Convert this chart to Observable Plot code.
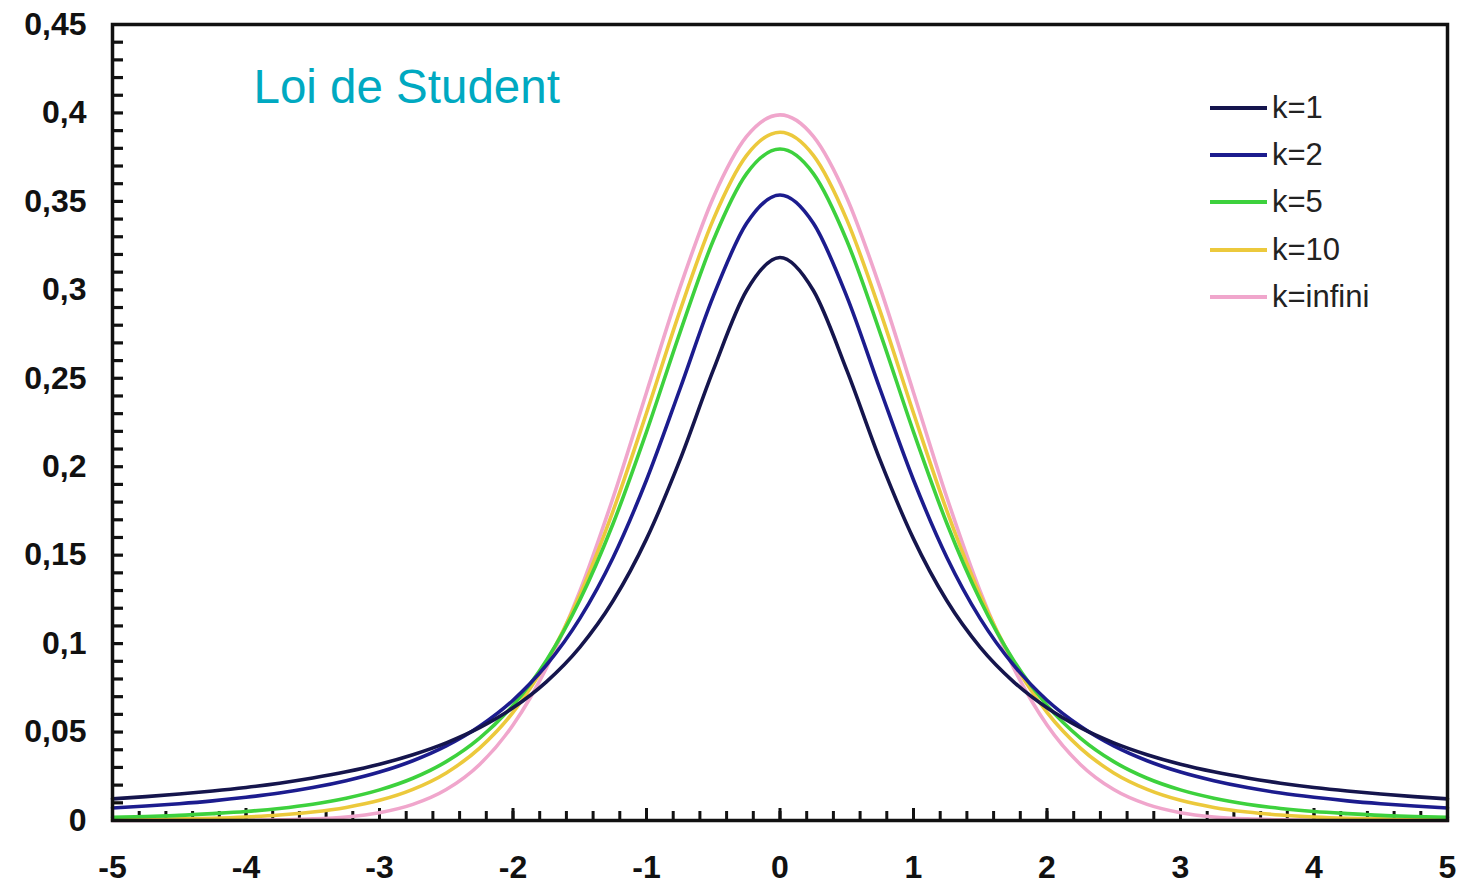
<!DOCTYPE html>
<html><head><meta charset="utf-8">
<script src="https://cdn.jsdelivr.net/npm/d3@7"></script>
<script src="https://cdn.jsdelivr.net/npm/@observablehq/plot@0.6"></script>
<style>
body{margin:0;background:#fff;}
#wrap{position:relative;width:1464px;height:885px;}
#legend{position:absolute;left:1210px;top:84px;font-family:"Liberation Sans",Arial,sans-serif;font-size:31px;color:#222;}
.row{display:flex;align-items:center;height:47.4px;}
.sw{width:57px;height:4px;margin-right:5px;}
</style></head><body><div id="wrap"><div id="legend"></div></div>
<script>
// x positions (step 0.25)
const xs = [-5,-4.75,-4.5,-4.25,-4,-3.75,-3.5,-3.25,-3,-2.75,-2.5,-2.25,-2,-1.75,-1.5,-1.25,-1,-0.75,-0.5,-0.25,0,0.25,0.5,0.75,1,1.25,1.5,1.75,2,2.25,2.5,2.75,3,3.25,3.5,3.75,4,4.25,4.5,4.75,5];
const k1 = [0.0122,0.0135,0.0150,0.0167,0.0187,0.0211,0.0240,0.0275,0.0318,0.0372,0.0439,0.0525,0.0637,0.0784,0.0979,0.1242,0.1592,0.2037,0.2546,0.2996,0.3183,0.2996,0.2546,0.2037,0.1592,0.1242,0.0979,0.0784,0.0637,0.0525,0.0439,0.0372,0.0318,0.0275,0.0240,0.0211,0.0187,0.0167,0.0150,0.0135,0.0122];
const k2 = [0.0071,0.0082,0.0095,0.0111,0.0131,0.0155,0.0186,0.0225,0.0274,0.0338,0.0422,0.0533,0.0680,0.0878,0.1141,0.1487,0.1925,0.2438,0.2963,0.3376,0.3536,0.3376,0.2963,0.2438,0.1925,0.1487,0.1141,0.0878,0.0680,0.0533,0.0422,0.0338,0.0274,0.0225,0.0186,0.0155,0.0131,0.0111,0.0095,0.0082,0.0071];
const k5 = [0.0018,0.0023,0.0029,0.0039,0.0051,0.0068,0.0092,0.0126,0.0173,0.0239,0.0333,0.0466,0.0651,0.0905,0.1245,0.1679,0.2197,0.2757,0.3279,0.3657,0.3796,0.3657,0.3279,0.2757,0.2197,0.1679,0.1245,0.0905,0.0651,0.0466,0.0333,0.0239,0.0173,0.0126,0.0092,0.0068,0.0051,0.0039,0.0029,0.0023,0.0018];
const k10 = [0.0004,0.0006,0.0009,0.0013,0.0020,0.0031,0.0048,0.0074,0.0114,0.0176,0.0269,0.0409,0.0611,0.0895,0.1274,0.1751,0.2304,0.2880,0.3397,0.3760,0.3891,0.3760,0.3397,0.2880,0.2304,0.1751,0.1274,0.0895,0.0611,0.0409,0.0269,0.0176,0.0114,0.0074,0.0048,0.0031,0.0020,0.0013,0.0009,0.0006,0.0004];
const kInf = [0,0,0,0,0.0001,0.0004,0.0009,0.0020,0.0044,0.0091,0.0175,0.0317,0.0540,0.0863,0.1295,0.1826,0.2420,0.3011,0.3521,0.3867,0.3989,0.3867,0.3521,0.3011,0.2420,0.1826,0.1295,0.0863,0.0540,0.0317,0.0175,0.0091,0.0044,0.0020,0.0009,0.0004,0.0001,0,0,0,0];

const seriesNames = ["k=1","k=2","k=5","k=10","k=infini"];
const seriesValues = [k1,k2,k5,k10,kInf];
const seriesColors = ["#15154d","#1c1c8e","#3dd13d","#ecc93c","#f0a6cc"];

const yTicks = [0,0.05,0.1,0.15,0.2,0.25,0.3,0.35,0.4,0.45];
const yTickLabels = ["0","0,05","0,1","0,15","0,2","0,25","0,3","0,35","0,4","0,45"];
const xTicks = [-5,-4,-3,-2,-1,0,1,2,3,4,5];
const xTickLabels = ["-5","-4","-3","-2","-1","0","1","2","3","4","5"];
const yMinor = d3.range(1,45).map(i => i/100);
const xMinor = d3.range(-25,26).map(i => i/5);

const W = 1464, H = 885, mL = 112, mR = 17, mT = 24, mB = 65;
const plotW = W - mL - mR, plotH = H - mT - mB;
const font = "'Liberation Sans', Arial, sans-serif";

const lineMarks = [];
for (let s = seriesValues.length - 1; s >= 0; s--) {
  const vals = seriesValues[s];
  lineMarks.push(Plot.line(vals, {x: (d,i) => xs[i], y: d => d, stroke: seriesColors[s], strokeWidth: 3.6, curve: "monotone-x"}));
}

const chart = Plot.plot({
  width: W, height: H,
  marginLeft: mL, marginRight: mR, marginTop: mT, marginBottom: mB,
  x: {domain: [-5,5], axis: null},
  y: {domain: [0,0.45], axis: null},
  style: {background: "white", fontFamily: font, color: "#111"},
  marks: [
    Plot.tickY(yMinor, {y: d => d, stroke: "#111", strokeWidth: 3.2, insetRight: plotW - 11}),
    Plot.tickX(xMinor, {x: d => d, stroke: "#111", strokeWidth: 3, insetTop: plotH - 9}),
    Plot.tickX(xTicks, {x: d => d, stroke: "#111", strokeWidth: 3, insetTop: plotH - 12}),
    Plot.axisY(yTicks, {tickSize: 0, tickPadding: 26, fontSize: 32, fontWeight: "bold", fill: "#111",
      tickFormat: (d,i) => yTickLabels[yTicks.indexOf(d)], label: null}),
    Plot.axisX(xTicks, {tickSize: 0, tickPadding: 35, fontSize: 32, fontWeight: "bold", fill: "#111",
      tickFormat: d => xTickLabels[xTicks.indexOf(d)], label: null}),
    ...lineMarks,
    Plot.frame({stroke: "#111", strokeWidth: 3.5}),
    Plot.text(["Loi de Student"], {frameAnchor: "top-left", dx: 141, dy: 63, textAnchor: "start", lineAnchor: "middle",
      fontSize: 47.5, fill: "#00a9c1", fontFamily: font})
  ]
});
document.getElementById("wrap").prepend(chart);

const legend = document.getElementById("legend");
seriesNames.forEach((name, i) => {
  const row = document.createElement("div");
  row.className = "row";
  const sw = document.createElement("div");
  sw.className = "sw";
  sw.style.background = seriesColors[i];
  const t = document.createElement("span");
  t.textContent = name;
  row.appendChild(sw); row.appendChild(t);
  legend.appendChild(row);
});
</script>
</body></html>
